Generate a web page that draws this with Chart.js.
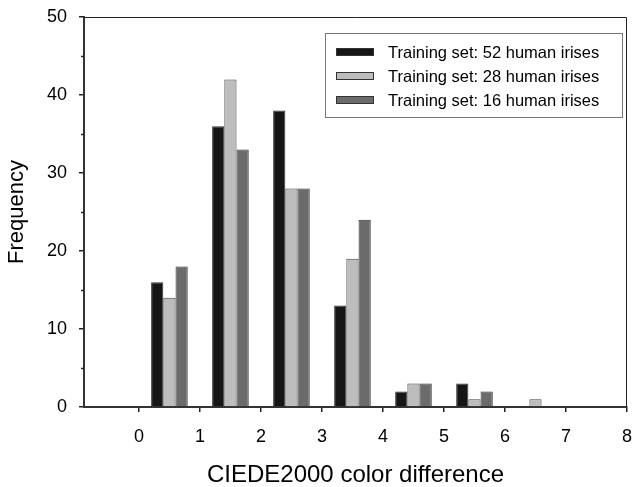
<!DOCTYPE html>
<html>
<head>
<meta charset="utf-8">
<script src="https://cdn.jsdelivr.net/npm/chart.js@4.4.1/dist/chart.umd.min.js"></script>
<style>
  html, body { margin: 0; padding: 0; background: #fff; }
  #wrap { width: 633px; height: 487px; }
</style>
</head>
<body>
<div id="wrap"><canvas id="irisChart" width="633" height="487"></canvas></div>
<script>
// histogram bins (centre of each 1-unit bin) and counts per training set
const binCenters = [0.5, 1.5, 2.5, 3.5, 4.5, 5.5, 6.5];
const set52 = [16, 36, 38, 13, 2, 3, 0];
const set28 = [14, 42, 28, 19, 3, 1, 1];
const set16 = [18, 33, 28, 24, 3, 2, 0];
const seriesLabels = [
    'Training set: 52 human irises',
    'Training set: 28 human irises',
    'Training set: 16 human irises'
];
const xTickValues = [0, 1, 2, 3, 4, 5, 6, 7, 8];
const yMinorTicks = [5, 15, 25, 35, 45];

const FONT = 'Liberation Sans, Arial, sans-serif';

function toPoints(values) {
    return values.map((v, i) => ({ x: binCenters[i], y: v }));
}

// box round the plot, minor ticks on the y axis, legend inside the plot
const framePlugin = {
    id: 'frame',
    afterDraw(chart) {
        const ctx = chart.ctx;
        const area = chart.chartArea;
        const yScale = chart.scales.y;
        ctx.save();

        ctx.strokeStyle = '#222';
        ctx.lineWidth = 1;
        ctx.beginPath();
        ctx.moveTo(area.left, area.top + 0.5);
        ctx.lineTo(area.right - 0.5, area.top + 0.5);
        ctx.lineTo(area.right - 0.5, area.bottom);
        ctx.stroke();

        ctx.lineWidth = 1.5;
        yMinorTicks.forEach(v => {
            const py = Math.round(yScale.getPixelForValue(v)) + 0.5;
            ctx.beginPath();
            ctx.moveTo(area.left - 3, py);
            ctx.lineTo(area.left, py);
            ctx.stroke();
        });

        // legend
        ctx.strokeStyle = '#777';
        ctx.lineWidth = 1;
        ctx.strokeRect(325.5, 33.5, 297, 84);
        ctx.font = '16.5px ' + FONT;
        ctx.textBaseline = 'middle';
        chart.data.datasets.forEach((ds, i) => {
            const cy = 52 + i * 24;
            ctx.fillStyle = ds.backgroundColor;
            ctx.fillRect(336, cy - 4, 38, 8);
            ctx.strokeStyle = '#333';
            ctx.strokeRect(336.5, cy - 3.5, 37, 7);
            ctx.fillStyle = '#000';
            ctx.fillText(ds.label, 388, cy + 1);
        });
        ctx.restore();
    }
};

const ctx = document.getElementById('irisChart').getContext('2d');
const irisChart = new Chart(ctx, {
    type: 'bar',
    data: {
        datasets: [{
            label: seriesLabels[0],
            data: toPoints(set52),
            backgroundColor: '#161616',
            borderColor: '#333',
            borderWidth: 1
        }, {
            label: seriesLabels[1],
            data: toPoints(set28),
            backgroundColor: '#bdbdbd',
            borderColor: '#444',
            borderWidth: 1
        }, {
            label: seriesLabels[2],
            data: toPoints(set16),
            backgroundColor: '#6b6b6b',
            borderColor: '#333',
            borderWidth: 1
        }]
    },
    options: {
        responsive: false,
        animation: false,
        devicePixelRatio: 1,
        datasets: {
            bar: {
                categoryPercentage: 0.6,
                barPercentage: 1.0
            }
        },
        layout: {
            padding: { left: 0, top: 17, right: 6, bottom: 0 }
        },
        scales: {
            x: {
                type: 'linear',
                min: -0.9,
                max: 8,
                offset: false,
                afterBuildTicks: function(scale) {
                    scale.ticks = xTickValues.map(v => ({ value: v }));
                },
                afterFit: function(scale) {
                    scale.height = 80;
                    scale.paddingLeft = 0;
                    scale.paddingRight = 0;
                },
                ticks: {
                    color: '#000',
                    padding: 14,
                    maxRotation: 0,
                    autoSkip: false,
                    font: { family: FONT, size: 18 }
                },
                grid: {
                    offset: false,
                    drawOnChartArea: false,
                    drawTicks: true,
                    tickLength: 5,
                    tickColor: '#222',
                    lineWidth: 1.5
                },
                border: { color: '#333', width: 2 },
                title: {
                    display: true,
                    text: 'CIEDE2000 color difference',
                    color: '#000',
                    padding: { top: 0, bottom: 0 },
                    font: { family: FONT, size: 24, lineHeight: 1 }
                }
            },
            y: {
                min: 0,
                max: 50,
                afterFit: function(scale) {
                    scale.width = 84;
                    scale.paddingTop = 0;
                    scale.paddingBottom = 0;
                },
                ticks: {
                    stepSize: 10,
                    color: '#000',
                    padding: 12,
                    font: { family: FONT, size: 18 }
                },
                grid: {
                    drawOnChartArea: false,
                    drawTicks: true,
                    tickLength: 5,
                    tickColor: '#222',
                    lineWidth: 1.5
                },
                border: { color: '#333', width: 2 },
                title: {
                    display: true,
                    text: 'Frequency',
                    color: '#000',
                    padding: { top: 6, bottom: 0 },
                    font: { family: FONT, size: 22, lineHeight: 1 }
                }
            }
        },
        plugins: {
            legend: { display: false },
            tooltip: { enabled: false }
        }
    },
    plugins: [framePlugin]
});
</script>
</body>
</html>
